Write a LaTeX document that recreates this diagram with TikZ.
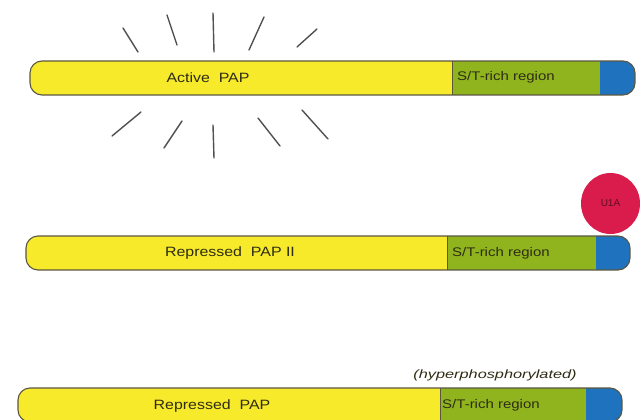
\documentclass[tikz,border=0pt]{standalone}
\usepackage{fontspec}
\setmainfont{Liberation Sans}
\usetikzlibrary{shapes.geometric}
\definecolor{papyellow}{HTML}{F6EA2A}
\definecolor{papgreen}{HTML}{8FB41E}
\definecolor{papblue}{HTML}{1F72BD}
\definecolor{papline}{HTML}{5A5640}
\definecolor{u1ared}{HTML}{D91C4C}
\definecolor{raygray}{HTML}{505050}
\definecolor{txtc}{HTML}{2E2C14}
\tikzset{
  ray/.style={draw=raygray, line width=1.4pt, line cap=round},
  outline/.style={draw=papline, line width=1.1pt, rounded corners=12pt},
  lbl/.style={font=\fontsize{13.5}{15}\selectfont, text=txtc, inner sep=0pt, xscale=1.18, transform shape},
  stlbl/.style={font=\fontsize{12.5}{15}\selectfont, text=txtc, inner sep=0pt, anchor=west, xscale=1.2, transform shape},
}
\begin{document}
\begin{tikzpicture}[x=1pt,y=-1pt]
\useasboundingbox (0,0) rectangle (643,420);
\clip (0,0) rectangle (643,420);
% ---------- bar 1 ----------
\begin{scope}
  \clip[rounded corners=12pt] (30,61) rectangle (635,95);
  \fill[papyellow] (30,61) rectangle (452,95);
  \fill[papgreen] (452,61) rectangle (600,95);
  \fill[papblue] (600,61) rectangle (635,95);
\end{scope}
\draw[papline, line width=0.8pt] (452,61) -- (452,95);
\draw[outline] (30,61) rectangle (635,95);
\node[lbl] (active) at (208,78) {Active\ \ PAP};
\node[stlbl] (st1) at (457,77) {S/T-rich region};
% rays
\coordinate (t1a) at (123,28); \coordinate (t1b) at (138,52);
\coordinate (t2a) at (167,15); \coordinate (t2b) at (177,45);
\coordinate (t3a) at (213,13); \coordinate (t3b) at (214,52);
\coordinate (t4a) at (264,17); \coordinate (t4b) at (249,50);
\coordinate (t5a) at (317,29); \coordinate (t5b) at (297,47);
\coordinate (b1a) at (141,112); \coordinate (b1b) at (112,136);
\coordinate (b2a) at (182,121); \coordinate (b2b) at (164,148);
\coordinate (b3a) at (213,125); \coordinate (b3b) at (214,158);
\coordinate (b4a) at (258,118); \coordinate (b4b) at (280,146);
\coordinate (b5a) at (302,110); \coordinate (b5b) at (328,139);
\foreach \r in {t1,t2,t3,t4,t5,b1,b2,b3,b4,b5}{\draw[ray] (\r a) -- (\r b);}
% ---------- bar 2 ----------
\begin{scope}
  \clip[rounded corners=12pt] (26,236) rectangle (630,270);
  \fill[papyellow] (26,236) rectangle (447,270);
  \fill[papgreen] (447,236) rectangle (596,270);
  \fill[papblue] (596,236) rectangle (630,270);
\end{scope}
\draw[papline, line width=0.8pt] (447,236) -- (447,270);
\draw[outline] (26,236) rectangle (630,270);
\node[lbl] (rep2) at (230,253) {Repressed\ \ PAP II};
\node[stlbl] (st2) at (452,253) {S/T-rich region};
\node[ellipse, fill=u1ared, minimum width=59pt, minimum height=61pt, inner sep=0pt,
      font=\fontsize{10}{12}\selectfont, text=u1ared!45!black] (u1a) at (610.5,203.5) {U1A};
% ---------- bar 3 ----------
\begin{scope}
  \clip[rounded corners=12pt] (18,388) rectangle (622,422);
  \fill[papyellow] (18,388) rectangle (440,422);
  \fill[papgreen] (440,388) rectangle (586,422);
  \fill[papblue] (586,388) rectangle (622,422);
\end{scope}
\draw[papline, line width=0.8pt] (440,388) -- (440,422);
\draw[outline] (18,388) rectangle (622,422);
\node[lbl] (rep3) at (212,406) {Repressed\ \ PAP};
\node[stlbl] (st3) at (442,405) {S/T-rich region};
\node[font=\itshape\fontsize{12}{14}\selectfont, text=txtc, inner sep=0pt, xscale=1.36, transform shape] (hyper) at (495,375) {(hyperphosphorylated)};
\end{tikzpicture}
\end{document}
